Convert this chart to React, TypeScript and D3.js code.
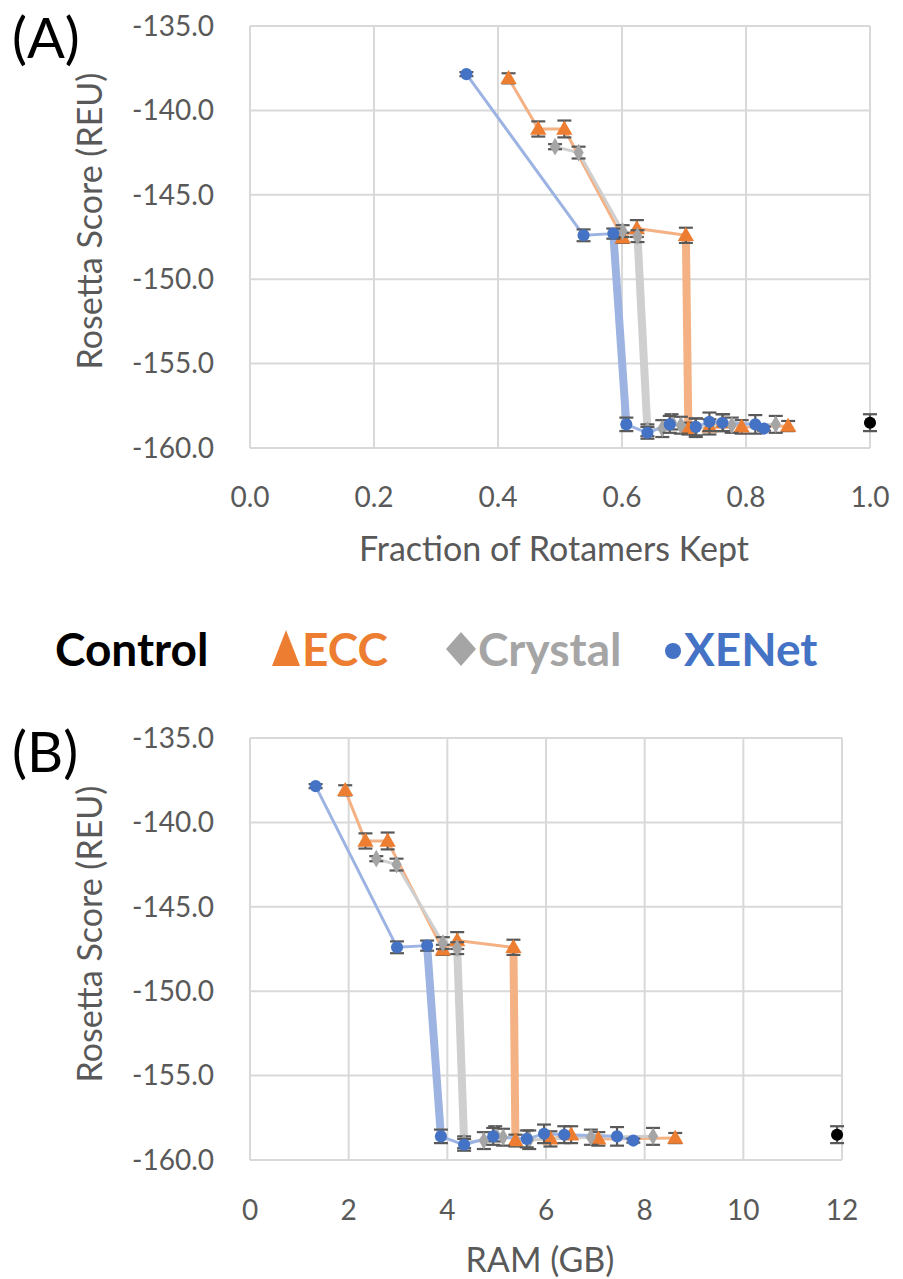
import React, { useEffect, useRef } from 'react';
import * as d3 from 'd3';

// XENet
const xenetFrac = [0.349, 0.538, 0.586, 0.607, 0.641, 0.677, 0.719, 0.741, 0.762, 0.815, 0.829];
const xenetRam = [1.33, 2.98, 3.59, 3.87, 4.34, 4.93, 5.61, 5.96, 6.37, 7.44, 7.77];
const xenetScore = [-137.85, -147.4, -147.3, -158.6, -159.1, -158.6, -158.75, -158.45, -158.5, -158.6, -158.85];
const xenetErr = [0.12, 0.35, 0.3, 0.4, 0.35, 0.5, 0.5, 0.55, 0.5, 0.55, 0.12];

// Crystal
const crystalFrac = [0.492, 0.53, 0.601, 0.625, 0.641, 0.665, 0.68, 0.695, 0.719, 0.777, 0.848];
const crystalRam = [2.56, 2.97, 3.91, 4.2, 4.34, 4.74, 4.97, 5.13, 5.66, 6.91, 8.17];
const crystalScore = [-142.15, -142.5, -147.15, -147.45, -158.95, -158.85, -158.45, -158.65, -158.8, -158.65, -158.6];
const crystalErr = [0.15, 0.35, 0.35, 0.35, 0.35, 0.5, 0.45, 0.5, 0.55, 0.45, 0.5];

// ECC
const eccFrac = [0.417, 0.465, 0.507, 0.601, 0.624, 0.703, 0.707, 0.741, 0.763, 0.793, 0.868];
const eccRam = [1.93, 2.34, 2.79, 3.91, 4.2, 5.34, 5.38, 6.09, 6.51, 7.06, 8.62];
const eccScore = [-138.1, -141.1, -141.1, -147.55, -147.0, -147.4, -158.85, -158.75, -158.5, -158.75, -158.7];
const eccErr = [0.3, 0.45, 0.5, 0.3, 0.5, 0.45, 0.35, 0.45, 0.5, 0.4, 0.3];

// Control
const controlFrac = [1.0];
const controlRam = [11.9];
const controlScore = [-158.5];
const controlErr = [0.5];

const yTicks = [-135, -140, -145, -150, -155, -160];
const fracTicks = [0, 0.2, 0.4, 0.6, 0.8, 1.0];
const ramTicks = [0, 2, 4, 6, 8, 10, 12];

const FONT = 'Lato, "Open Sans", sans-serif';
const TEXT = '#595959';
const GRID = '#D9D9D9';

// plain hyphen for negatives, like the original
const fmt = d3.formatLocale({ decimal: '.', thousands: ',', grouping: [3], currency: ['', ''], minus: '-' });

const series = [
  { name: 'Control', frac: controlFrac, ram: controlRam, score: controlScore, err: controlErr, color: '#000000', line: 'none', thick: -1, shape: 'circle' },
  { name: 'ECC', frac: eccFrac, ram: eccRam, score: eccScore, err: eccErr, color: '#ED7D31', line: '#F4B183', thick: 5, shape: 'triangle' },
  { name: 'Crystal', frac: crystalFrac, ram: crystalRam, score: crystalScore, err: crystalErr, color: '#A5A5A5', line: '#CFCFCF', thick: 3, shape: 'diamond' },
  { name: 'XENet', frac: xenetFrac, ram: xenetRam, score: xenetScore, err: xenetErr, color: '#4472C4', line: '#9DB4E3', thick: 2, shape: 'circle' },
];

function drawPanel(svg, opts) {
  const { key, xDomain, xRange, yRange, xTicks, xFormat, xTickY, xTitle, xTitleY, label, labelY, yTitleY } = opts;
  const x = d3.scaleLinear().domain(xDomain).range(xRange);
  const y = d3.scaleLinear().domain([-160, -135]).range(yRange);
  const g = svg.append('g');

  // grid
  g.selectAll('.vg').data(xTicks).enter().append('line')
    .attr('x1', (d) => x(d)).attr('x2', (d) => x(d))
    .attr('y1', yRange[1]).attr('y2', yRange[0])
    .attr('stroke', GRID).attr('stroke-width', 2);
  g.selectAll('.hg').data(yTicks).enter().append('line')
    .attr('x1', xRange[0]).attr('x2', xRange[1])
    .attr('y1', (d) => y(d)).attr('y2', (d) => y(d))
    .attr('stroke', GRID).attr('stroke-width', 2);

  // tick labels
  g.selectAll('.yl').data(yTicks).enter().append('text')
    .attr('x', 214).attr('y', (d) => y(d))
    .attr('dy', '0.35em')
    .attr('text-anchor', 'end')
    .attr('font-family', FONT).attr('font-size', 28).attr('fill', TEXT)
    .text((d) => fmt.format('.1f')(d));
  g.selectAll('.xl').data(xTicks).enter().append('text')
    .attr('x', (d) => x(d)).attr('y', xTickY)
    .attr('text-anchor', 'middle')
    .attr('font-family', FONT).attr('font-size', 28).attr('fill', TEXT)
    .text((d) => xFormat(d));

  // titles
  g.append('text')
    .attr('transform', `translate(102, ${yTitleY}) rotate(-90)`)
    .attr('text-anchor', 'middle')
    .attr('font-family', FONT).attr('font-size', 34).attr('fill', TEXT)
    .text('Rosetta Score (REU)');
  g.append('text')
    .attr('x', (xRange[0] + xRange[1]) / 2 - 6).attr('y', xTitleY)
    .attr('text-anchor', 'middle')
    .attr('font-family', FONT).attr('font-size', 34).attr('fill', TEXT)
    .text(xTitle);
  g.append('text')
    .attr('x', 12).attr('y', labelY)
    .attr('font-family', FONT).attr('font-size', 56).attr('fill', '#000')
    .text(label);

  // lines
  series.forEach((s) => {
    if (s.line === 'none') return;
    const pts = s.score.map((v, i) => [x(s[key][i]), y(v)]);
    g.append('path')
      .attr('d', d3.line()(pts))
      .attr('fill', 'none').attr('stroke', s.line).attr('stroke-width', 3)
      .attr('stroke-linejoin', 'round');
    const i = s.thick;
    g.append('line')
      .attr('x1', pts[i][0]).attr('y1', pts[i][1])
      .attr('x2', pts[i + 1][0]).attr('y2', pts[i + 1][1])
      .attr('stroke', s.line).attr('stroke-width', 8);
  });

  // error bars + markers
  series.forEach((s) => {
    const pts = s.score.map((v, i) => ({ px: x(s[key][i]), v, e: s.err[i] }));
    const eb = g.append('g').attr('stroke', TEXT).attr('stroke-width', 2.2);
    pts.forEach((p) => {
      const y1 = y(p.v + p.e), y2 = y(p.v - p.e);
      eb.append('line').attr('x1', p.px).attr('x2', p.px).attr('y1', y1).attr('y2', y2);
      eb.append('line').attr('x1', p.px - 7).attr('x2', p.px + 7).attr('y1', y1).attr('y2', y1);
      eb.append('line').attr('x1', p.px - 7).attr('x2', p.px + 7).attr('y1', y2).attr('y2', y2);
    });
    const symType = s.shape === 'triangle' ? d3.symbolTriangle : s.shape === 'diamond' ? d3.symbolDiamond : d3.symbolCircle;
    const size = s.shape === 'triangle' ? 115 : s.shape === 'diamond' ? 90 : 115;
    g.selectAll(null).data(pts).enter().append('path')
      .attr('d', d3.symbol().type(symType).size(size)())
      .attr('transform', (p) => `translate(${p.px}, ${y(p.v) + (s.shape === 'triangle' ? 1 : 0)})`)
      .attr('fill', s.color);
  });
}

const App = () => {
  const svgRef = useRef(null);

  useEffect(() => {
    const svg = d3.select(svgRef.current);
    svg.selectAll('*').remove();

    drawPanel(svg, {
      key: 'frac', xDomain: [0, 1], xRange: [250, 870], yRange: [448, 26],
      xTicks: fracTicks, xFormat: fmt.format('.1f'), xTickY: 507,
      xTitle: 'Fraction of Rotamers Kept', xTitleY: 561, label: '(A)', labelY: 58, yTitleY: 221,
    });
    drawPanel(svg, {
      key: 'ram', xDomain: [0, 12], xRange: [250, 842], yRange: [1160, 738],
      xTicks: ramTicks, xFormat: fmt.format('d'), xTickY: 1220,
      xTitle: 'RAM (GB)', xTitleY: 1272, label: '(B)', labelY: 772, yTitleY: 934,
    });

    // legend
    const lg = svg.append('g').attr('font-family', FONT).attr('font-weight', 700).attr('font-size', 46);
    lg.append('text').attr('x', 55).attr('y', 666).attr('fill', '#000').text('Control');
    lg.append('path').attr('d', 'M272,666 L286,630 L300,666 Z').attr('fill', '#ED7D31');
    lg.append('text').attr('x', 302).attr('y', 666).attr('fill', '#ED7D31').text('ECC');
    lg.append('path').attr('d', 'M461,632 L476,649 L461,666 L446,649 Z').attr('fill', '#A5A5A5');
    lg.append('text').attr('x', 478).attr('y', 666).attr('fill', '#A5A5A5').text('Crystal');
    lg.append('circle').attr('cx', 673).attr('cy', 651).attr('r', 8).attr('fill', '#4472C4');
    lg.append('text').attr('x', 684).attr('y', 666).attr('fill', '#4472C4').text('XENet');
  }, []);

  return (
    <svg ref={svgRef} width={903} height={1279}
      style={{ position: 'absolute', left: 0, top: 0, background: '#fff' }} />
  );
};

export default App;
